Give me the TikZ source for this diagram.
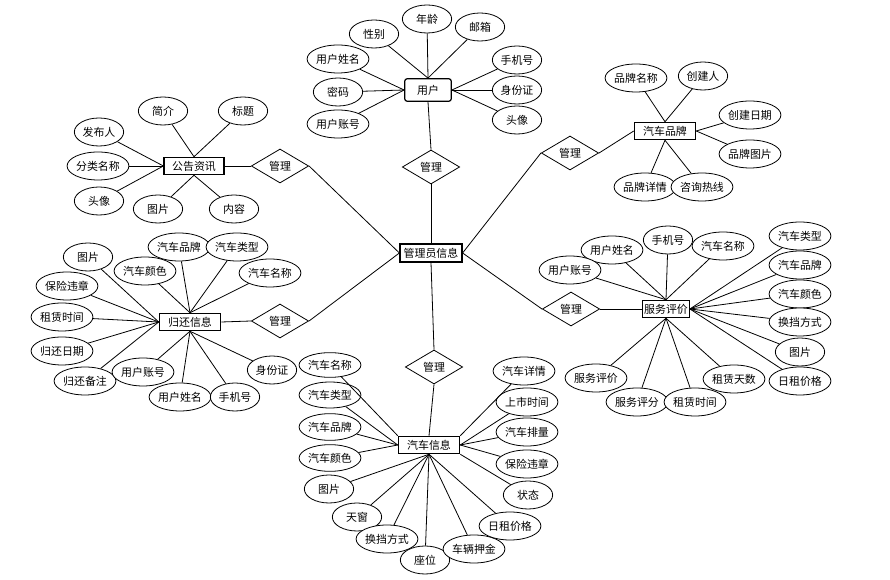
\documentclass[tikz,border=0pt]{standalone}
\usepackage{fontspec}
\setmainfont{Noto Sans CJK SC}
\usetikzlibrary{shapes.geometric}
\begin{document}
\begin{tikzpicture}[x=0.75pt,y=-0.75pt,
  every node/.style={font=\fontsize{8.2}{10}\selectfont, inner sep=0pt},
  attr/.style={ellipse, draw, fill=white, line width=0.6pt, minimum width=37pt, minimum height=21pt},
  attrw/.style={attr, minimum width=43pt},
  ent/.style={rectangle, draw, fill=white, line width=0.9pt, minimum height=13pt, minimum width=46pt},
  rel/.style={diamond, draw, fill=white, line width=0.6pt, minimum width=43pt, minimum height=25.5pt},
  lk/.style={line width=0.6pt}]
\useasboundingbox (0,0) rectangle (890,580);

% main
\node[ent, minimum width=46.5pt, minimum height=13.5pt] (m) at (431,253) {管理员信息};

% user
\node[ent, rounded corners=2pt, minimum width=35pt, minimum height=17pt] (u) at (428,90) {用户};
\node[attr] (u1) at (374,34) {性别};
\node[attr] (u2) at (427,19) {年龄};
\node[attr] (u3) at (480,27) {邮箱};
\node[attrw] (u4) at (338,59) {用户姓名};
\node[attr] (u5) at (338,92) {密码};
\node[attrw] (u6) at (338,124) {用户账号};
\node[attr] (u7) at (517,60) {手机号};
\node[attr] (u8) at (517,90) {身份证};
\node[attr] (u9) at (517,120) {头像};
\node[rel] (ru) at (431,167) {管理};
\foreach \i in {1,2,3} \draw[lk] (u\i) -- (u.north);
\foreach \i in {4,5,6} \draw[lk] (u\i) -- (u.west);
\foreach \i in {7,8,9} \draw[lk] (u\i) -- (u.east);
\draw[lk] (u.south) -- (ru.north);
\draw[lk] (ru.south) -- (m.north);

% brand
\node[ent] (b) at (665,131) {汽车品牌};
\node[attrw] (b1) at (636,78) {品牌名称};
\node[attr] (b2) at (703,76) {创建人};
\node[attrw] (b3) at (750,115) {创建日期};
\node[attrw] (b4) at (750,154) {品牌图片};
\node[attrw] (b5) at (645,187) {品牌详情};
\node[attrw] (b6) at (702,187) {咨询热线};
\node[rel] (rb) at (570,153) {管理};
\foreach \i in {1,2} \draw[lk] (b\i) -- (b.north);
\foreach \i in {3,4} \draw[lk] (b\i) -- (b.east);
\foreach \i in {5,6} \draw[lk] (b\i) -- (b.south);
\draw[lk] (rb.east) -- (b.west);
\draw[lk] (m.east) -- (rb.west);

% news
\node[ent, minimum width=45pt] (n) at (194,166) {公告资讯};
\node[attr] (n1) at (163,111) {简介};
\node[attr] (n2) at (243,111) {标题};
\node[attr] (n3) at (99,132) {发布人};
\node[attrw] (n4) at (98,166) {分类名称};
\node[attr] (n5) at (99,201) {头像};
\node[attr] (n6) at (158,209) {图片};
\node[attr] (n7) at (234,209) {内容};
\node[rel] (rn) at (280,166) {管理};
\foreach \i in {1,2} \draw[lk] (n\i) -- (n.north);
\foreach \i in {3,4,5} \draw[lk] (n\i) -- (n.west);
\foreach \i in {6,7} \draw[lk] (n\i) -- (n.south);
\draw[lk] (n.east) -- (rn.west);
\draw[lk] (rn.east) -- (m.west);

% return
\node[ent] (r) at (190,322) {归还信息};
\node[attr] (r1) at (88,257) {图片};
\node[attrw] (r2) at (145,271) {汽车颜色};
\node[attrw] (r3) at (179,247) {汽车品牌};
\node[attrw] (r4) at (237,247) {汽车类型};
\node[attrw] (r5) at (270,273) {汽车名称};
\node[attrw] (r6) at (67,286) {保险违章};
\node[attrw] (r7) at (62,317) {租赁时间};
\node[attrw] (r8) at (62,351) {归还日期};
\node[attrw] (r9) at (85,381) {归还备注};
\node[attrw] (r10) at (143,372) {用户账号};
\node[attrw] (r11) at (180,397) {用户姓名};
\node[attr] (r12) at (235,397) {手机号};
\node[attr] (r13) at (272,370) {身份证};
\node[rel] (rr) at (280,321) {管理};
\foreach \i in {2,3,4,5} \draw[lk] (r\i) -- (r.north);
\foreach \i in {1,6,7,8,9} \draw[lk] (r\i) -- (r.west);
\foreach \i in {10,11,12,13} \draw[lk] (r\i) -- (r.south);
\draw[lk] (r.east) -- (rr.west);
\draw[lk] (rr.east) -- (m.west);

% service
\node[ent, minimum width=35pt] (s) at (666,309) {服务评价};
\node[attrw] (s1) at (612,250) {用户姓名};
\node[attr] (s2) at (668,240) {手机号};
\node[attrw] (s3) at (723,246) {汽车名称};
\node[attrw] (s4) at (570,270) {用户账号};
\node[attrw] (s5) at (800,236) {汽车类型};
\node[attrw] (s6) at (800,265) {汽车品牌};
\node[attrw] (s7) at (800,294) {汽车颜色};
\node[attrw] (s8) at (800,322) {换挡方式};
\node[attr] (s9) at (800,352) {图片};
\node[attrw] (s10) at (800,381) {日租价格};
\node[attrw] (s11) at (596,378) {服务评价};
\node[attrw] (s12) at (637,402) {服务评分};
\node[attrw] (s13) at (695,402) {租赁时间};
\node[attrw] (s14) at (734,379) {租赁天数};
\node[rel] (rs) at (571,309) {管理};
\foreach \i in {1,2,3,4} \draw[lk] (s\i) -- (s.north);
\foreach \i in {5,6,7,8,9,10} \draw[lk] (s\i) -- (s.east);
\foreach \i in {11,12,13,14} \draw[lk] (s\i) -- (s.south);
\draw[lk] (rs.east) -- (s.west);
\draw[lk] (m.east) -- (rs.west);

% car
\node[ent] (c) at (429,445) {汽车信息};
\node[attrw, minimum height=18.5pt] (c1) at (330,365) {汽车名称};
\node[attrw, minimum height=19.5pt] (c2) at (330,395) {汽车类型};
\node[attrw, minimum height=20pt] (c3) at (330,427) {汽车品牌};
\node[attrw, minimum height=20pt] (c4) at (330,458) {汽车颜色};
\node[attr] (c5) at (329,489) {图片};
\node[attr] (c6) at (357,517) {天窗};
\node[attrw] (c7) at (387,539) {换挡方式};
\node[attr] (c8) at (425,560) {座位};
\node[attrw] (c9) at (474,549) {车辆押金};
\node[attrw] (c10) at (510,526) {日租价格};
\node[attr] (c11) at (528,495) {状态};
\node[attrw] (c12) at (527,464) {保险违章};
\node[attrw] (c13) at (527,432) {汽车排量};
\node[attrw] (c14) at (527,402) {上市时间};
\node[attrw] (c15) at (524,371) {汽车详情};
\node[rel] (rc) at (434,367) {管理};
\draw[lk] (c1) -- (c.north west);
\foreach \i in {2,3,4} \draw[lk] (c\i) -- (c.west);
\foreach \i in {5,6,7,8,9,10} \draw[lk] (c\i) -- (c.south);
\draw[lk] (c11) -- (c.south east);
\foreach \i in {12,13,14} \draw[lk] (c\i) -- (c.east);
\draw[lk] (c15) -- (c.north east);
\draw[lk] (m.south) -- (rc.north);
\draw[lk] (rc.south) -- (c.north);
\end{tikzpicture}
\end{document}
